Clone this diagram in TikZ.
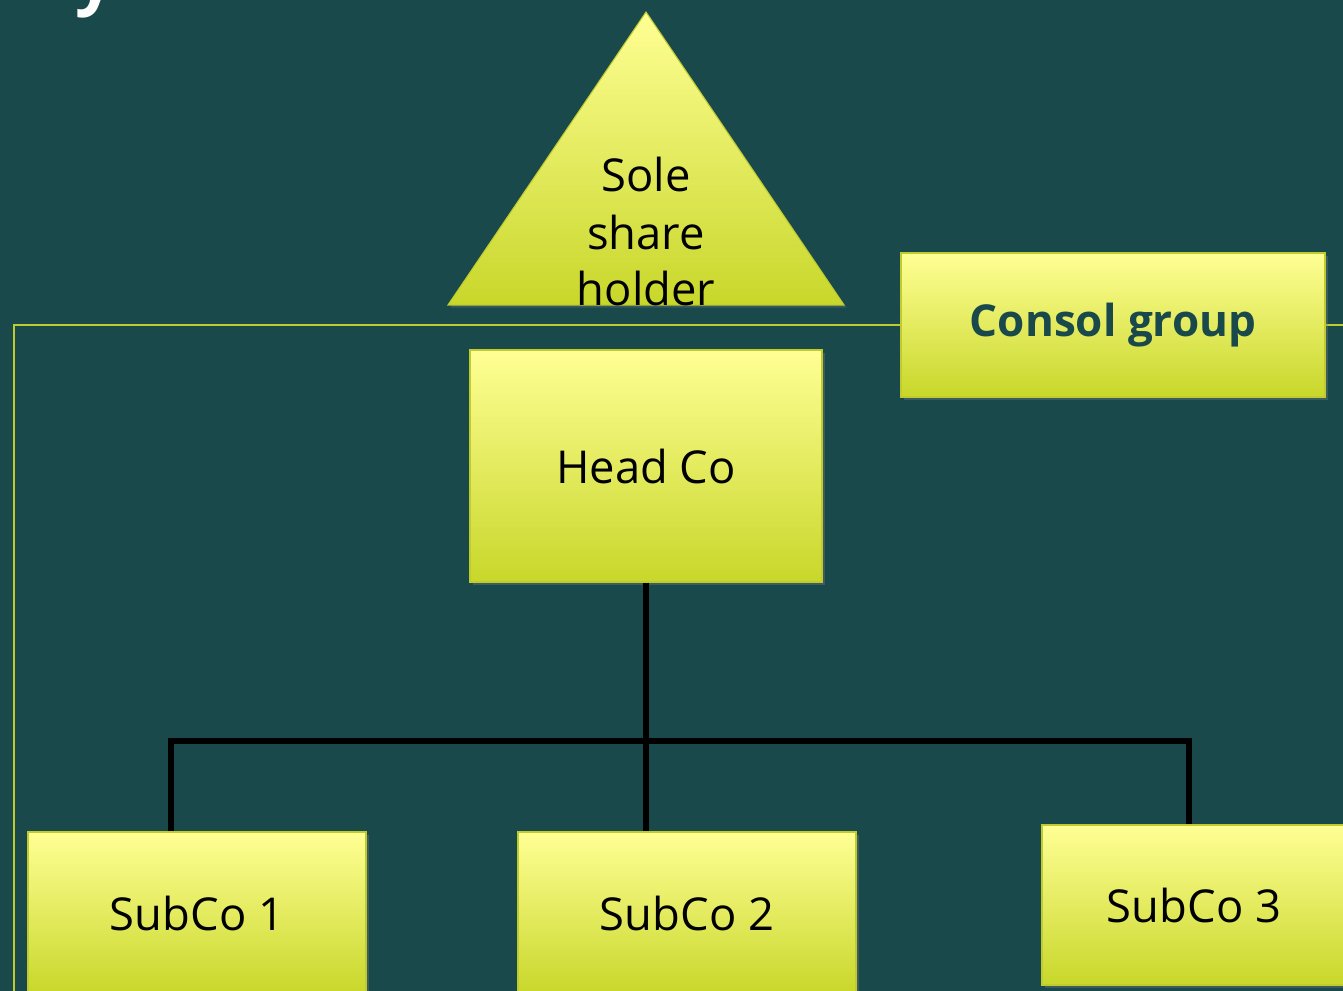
\documentclass[tikz,border=0pt]{standalone}
\usepackage{fontspec}
\setmainfont{Open Sans}
\usetikzlibrary{shadows}
\definecolor{bg}{HTML}{1A494C}
\definecolor{ltop}{HTML}{FFFF94}
\definecolor{lbot}{HTML}{C8D72A}
\definecolor{edge}{HTML}{BFCB2E}
\definecolor{teal}{HTML}{1A494C}
\begin{document}
\begin{tikzpicture}[x=0.75pt,y=-0.75pt,
  box/.style={draw=edge, line width=1.2pt, top color=ltop, bottom color=lbot,
    inner sep=0pt, text=black, font=\fontsize{34}{40}\selectfont,
    drop shadow={opacity=0.35, shadow xshift=2.5pt, shadow yshift=-2.5pt}},
  frameline/.style={draw=edge, line width=1.5pt},
  link/.style={draw=black, line width=4pt}]
\useasboundingbox (0,0) rectangle (1343,991);
\fill[bg] (0,0) rectangle (1343,991);
% title fragment
\node[text=white, font=\bfseries\fontsize{52}{52}\selectfont, anchor=base, inner sep=0pt] (ttl) at (95,2) {y};
% frame of consolidated group
\coordinate (fbl) at (14,1010);
\coordinate (ftl) at (14,325);
\coordinate (ftr) at (1360,325);
\draw[frameline] (fbl) -- (ftl) -- (ftr);
% triangle
\coordinate (apex) at (646,12);
\coordinate (tbl) at (448,305);
\coordinate (tbr) at (844,305);
\shade[top color=ltop, bottom color=lbot, draw=edge, line width=0.8pt,
  drop shadow={opacity=0.3, shadow xshift=2pt, shadow yshift=-2pt}] (apex) -- (tbl) -- (tbr) -- cycle;
\node[align=center, font=\fontsize{34}{42.75}\selectfont, text=black, inner sep=0pt] (tri) at (646,232) {Sole\\share\\holder};
% boxes
\node[box, minimum width=318pt, minimum height=108pt, text=teal, font=\bfseries\fontsize{33}{40}\selectfont] (consol) at (1113,325) {Consol group};
\node[box, minimum width=264pt, minimum height=174pt] (head) at (646,466) {Head Co};
\node[box, minimum width=253.5pt, minimum height=121.5pt] (sub1) at (197,913) {SubCo 1};
\node[box, minimum width=253.5pt, minimum height=121.5pt] (sub2) at (687,913) {SubCo 2};
\node[box, minimum width=228pt, minimum height=120pt] (sub3) at (1194,905) {SubCo 3};
% connectors
\coordinate (j1) at (171,741);
\coordinate (j2) at (646,741);
\coordinate (j3) at (1189,741);
\draw[link] (head.south) -- (head.south |- sub2.north);
\draw[link] (sub1.north -| j1) -- (j1) -- (j3) -- (sub3.north -| j3);
\end{tikzpicture}
\end{document}
